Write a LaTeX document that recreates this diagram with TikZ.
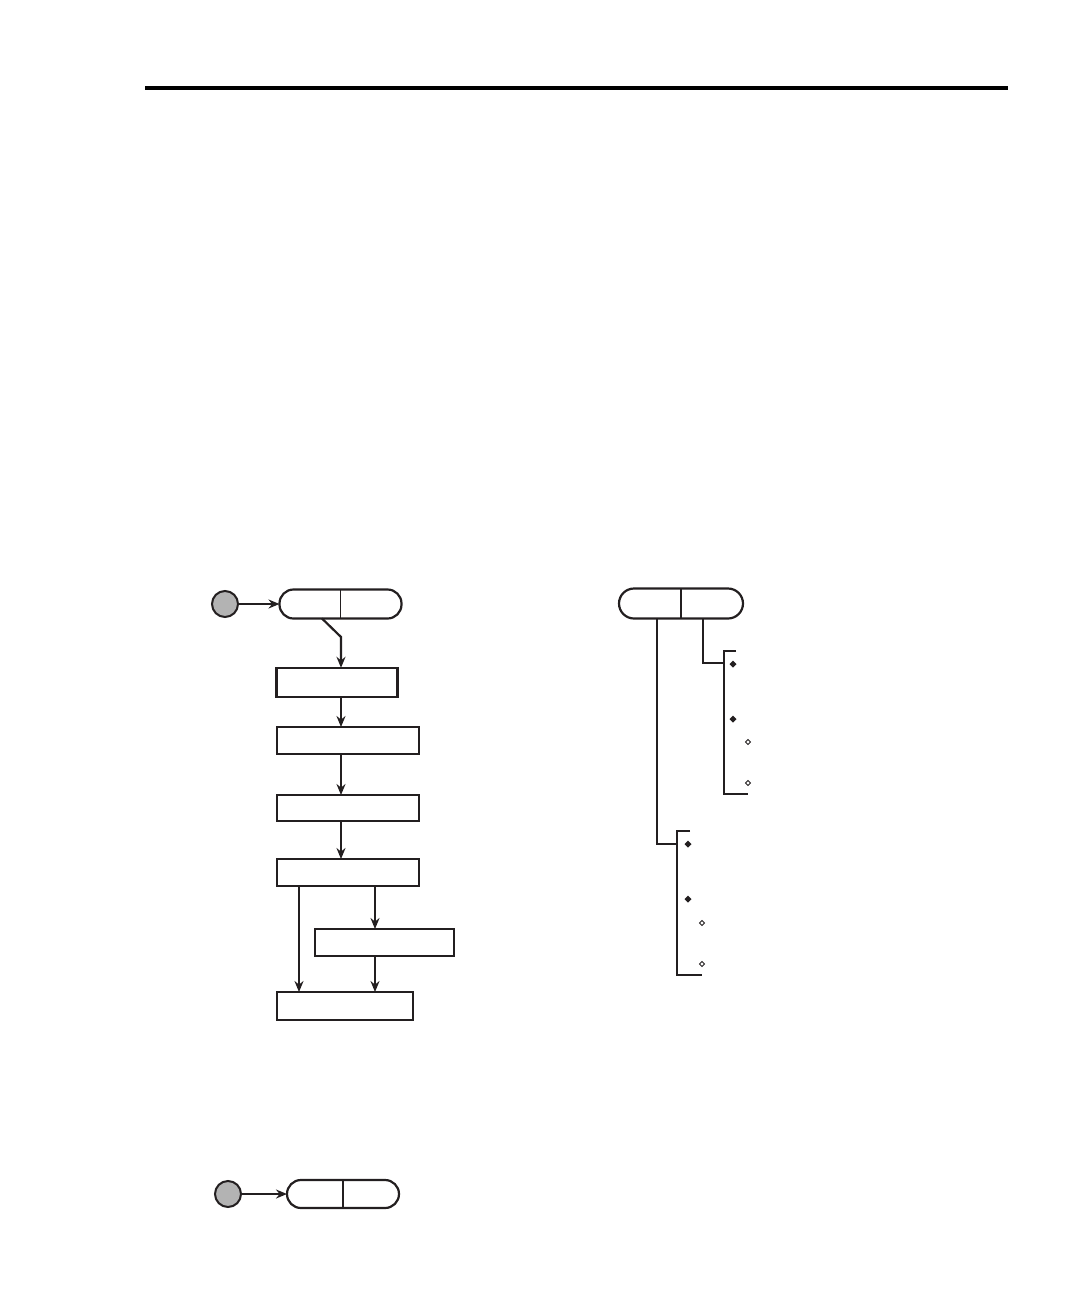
\documentclass[tikz,border=0pt]{standalone}
\usetikzlibrary{arrows.meta,shapes.geometric,calc}
\definecolor{ink}{HTML}{231F20}
\definecolor{dotgray}{HTML}{B3B3B3}
\begin{document}
\begin{tikzpicture}[x=1pt,y=-1pt,
  every node/.style={inner sep=0pt,outer sep=0pt},
  boxnode/.style={draw=ink,line width=2.1pt,rectangle},
  pill/.style={draw=ink,line width=2.2pt,rectangle,rounded corners=14pt,minimum height=29pt},
  startdot/.style={circle,draw=ink,line width=2pt,fill=dotgray,minimum size=26pt},
  divider/.style={draw=ink,line width=1.2pt},
  arr/.style={draw=ink,line width=2.2pt,-{Stealth[length=11pt,width=9pt]}},
  tree/.style={draw=ink,line width=2.2pt},
  fdia/.style={diamond,fill=ink,minimum size=7pt},
  odia/.style={diamond,draw=ink,line width=0.9pt,fill=white,minimum size=5pt}]
\useasboundingbox (0,0) rectangle (1080,1296);
% header rule
\coordinate (r1) at (145,88);
\coordinate (r2) at (1008,88);
\draw[line width=3.5pt,black] (r1) -- (r2);

% ---------- left flowchart ----------
\node[startdot] (s0) at (225,604) {};
\node[pill,minimum width=122pt] (p1) at (340.5,604) {};
\draw[divider] (p1.north) -- (p1.south);
\draw[arr] (s0.east) -- (p1.west);

\node[boxnode,minimum width=121pt,minimum height=29pt] (b1) at (337,682.3) {};
\node[boxnode,minimum width=142pt,minimum height=27pt] (b2) at (348,740.5) {};
\node[boxnode,minimum width=142pt,minimum height=26pt] (b3) at (348,808) {};
\node[boxnode,minimum width=142pt,minimum height=27pt] (b4) at (348,872.5) {};
\node[boxnode,minimum width=139pt,minimum height=27pt] (b5) at (384.5,942.5) {};
\node[boxnode,minimum width=136pt,minimum height=28pt] (b6) at (345,1006) {};

\coordinate (cx) at (341,0);
\coordinate (lx) at (299,0);
\coordinate (rx) at (375,0);
\coordinate (k0) at ($(p1.south)+(-18.5,0)$);
\coordinate (k1) at (341,637);
\draw[arr] (k0) -- (k1) -- (k1 |- b1.north);
\draw[arr] (b1.south -| cx) -- (b2.north -| cx);
\draw[arr] (b2.south -| cx) -- (b3.north -| cx);
\draw[arr] (b3.south -| cx) -- (b4.north -| cx);
\draw[arr] (b4.south -| lx) -- (b6.north -| lx);
\draw[arr] (b4.south -| rx) -- (b5.north -| rx);
\draw[arr] (b5.south -| rx) -- (b6.north -| rx);

% ---------- right tree ----------
\node[pill,minimum width=124pt,minimum height=30pt,rounded corners=15pt] (p2) at (681,603.5) {};
\draw[divider] (p2.north) -- (p2.south);
\coordinate (t1) at (657,0);
\coordinate (t2) at (703,0);
\coordinate (j1) at (677,844);
\coordinate (j2) at (724,663);
\draw[tree] (p2.south -| t1) |- (j1);
\draw[tree] (p2.south -| t2) |- (j2);

\coordinate (a1) at (736,651);
\coordinate (a2) at (724,651);
\coordinate (a3) at (724,794);
\coordinate (a4) at (748,794);
\draw[tree,line cap=butt] (a1) -- (a2) -- (a3) -- (a4);
\node[fdia] (d1) at (733,664) {};
\node[fdia] (d2) at (733,719) {};
\node[odia] (d3) at (748,742) {};
\node[odia] (d4) at (748,783) {};

\coordinate (c1) at (690,831);
\coordinate (c2) at (677,831);
\coordinate (c3) at (677,975);
\coordinate (c4) at (702,975);
\draw[tree,line cap=butt] (c1) -- (c2) -- (c3) -- (c4);
\node[fdia] (e1) at (688,844) {};
\node[fdia] (e2) at (688,899) {};
\node[odia] (e3) at (702,923) {};
\node[odia] (e4) at (702,964) {};

% ---------- bottom ----------
\node[startdot] (s1) at (228,1194) {};
\node[pill,minimum width=112pt,minimum height=28pt] (p3) at (343,1194) {};
\draw[divider] (p3.north) -- (p3.south);
\draw[arr] (s1.east) -- (p3.west);
\end{tikzpicture}
\end{document}
